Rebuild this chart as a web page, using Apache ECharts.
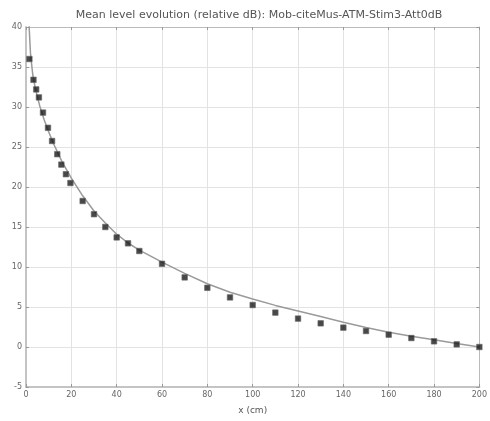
<!DOCTYPE html>
<html>
<head>
<meta charset="utf-8">
<script src="https://cdn.jsdelivr.net/npm/echarts@6/dist/echarts.min.js"></script>
<style>html,body{margin:0;padding:0;background:#fff}#c{width:490px;height:421px}</style>
</head>
<body>
<div id="c"></div>
<script>
// Measured points (x in cm, mean level in relative dB)
const pointX = [1.5, 3.3, 4.5, 5.7, 7.5, 9.7, 11.5, 13.8, 15.6, 17.6, 19.6, 25, 30, 35, 40, 45, 50, 60, 70, 80, 90, 100, 110, 120, 130, 140, 150, 160, 170, 180, 190, 200];
const pointY = [36.0, 33.4, 32.2, 31.2, 29.3, 27.4, 25.75, 24.1, 22.8, 21.6, 20.5, 18.25, 16.6, 15.0, 13.7, 12.96, 12.0, 10.4, 8.7, 7.4, 6.2, 5.25, 4.3, 3.55, 2.96, 2.42, 2.0, 1.54, 1.12, 0.71, 0.33, 0.0];
// Fitted curve
const curveX = [1.3, 2, 3, 4, 5, 6, 8, 10, 12, 14, 16, 18, 20, 25, 30, 35, 40, 45, 50, 60, 70, 80, 90, 100, 110, 120, 130, 140, 150, 160, 170, 180, 190, 200];
const curveY = [40.5, 36.6, 34.0, 32.5, 31.3, 30.2, 28.4, 26.9, 25.5, 24.3, 23.1, 22.1, 21.1, 18.9, 17.0, 15.5, 14.1, 13.0, 12.1, 10.6, 9.2, 7.9, 6.85, 6.0, 5.2, 4.5, 3.8, 3.1, 2.45, 1.85, 1.35, 0.9, 0.45, 0.0];
const xTicks = [0, 20, 40, 60, 80, 100, 120, 140, 160, 180, 200];
const yTicks = [-5, 0, 5, 10, 15, 20, 25, 30, 35, 40];

const titleText = 'Mean level evolution (relative dB): Mob-citeMus-ATM-Stim3-Att0dB';
const xLabel = 'x (cm)';

const pts = pointX.map((x, i) => [x, pointY[i]]);
const crv = curveX.map((x, i) => [x, curveY[i]]);

const font = 'DejaVu Sans';
const chart = echarts.init(document.getElementById('c'), null, {renderer: 'canvas'});
const gridLine = {show: true, lineStyle: {color: '#e3e3e3', width: 1, type: 'solid'}};
chart.setOption({
  animation: false,
  backgroundColor: '#fff',
  title: {text: titleText, left: 254, top: 5, textAlign: 'center',
    textStyle: {fontFamily: font, fontSize: 11, fontWeight: 'normal', color: '#555'}},
  grid: {left: 26, right: 8, top: 27, bottom: 34},
  xAxis: [{
    type: 'value', min: 0, max: 200, interval: 20,
    name: xLabel, nameLocation: 'middle', nameGap: 19,
    nameTextStyle: {fontFamily: font, fontSize: 9, color: '#555'},
    axisLine: {show: true, onZero: false, lineStyle: {color: '#c4c4c4', width: 2}},
    axisTick: {show: true, inside: true, length: 3, lineStyle: {color: '#999'}},
    axisLabel: {fontFamily: font, fontSize: 8, color: '#666', margin: 4},
    splitLine: gridLine
  }, {
    type: 'value', min: 0, max: 200, interval: 20, position: 'top',
    axisLine: {show: true, onZero: false, lineStyle: {color: '#bbb', width: 1}},
    axisTick: {show: true, inside: true, length: 3, lineStyle: {color: '#999'}},
    axisLabel: {show: false}, splitLine: {show: false}
  }],
  yAxis: [{
    type: 'value', min: -5, max: 40, interval: 5,
    axisLine: {show: true, onZero: false, lineStyle: {color: '#c4c4c4', width: 2}},
    axisTick: {show: true, inside: true, length: 3, lineStyle: {color: '#999'}},
    axisLabel: {fontFamily: font, fontSize: 8, color: '#666', margin: 4},
    splitLine: gridLine
  }, {
    type: 'value', min: -5, max: 40, interval: 5, position: 'right',
    axisLine: {show: true, onZero: false, lineStyle: {color: '#bbb', width: 1}},
    axisTick: {show: true, inside: true, length: 3, lineStyle: {color: '#999'}},
    axisLabel: {show: false}, splitLine: {show: false}
  }],
  series: [{
    type: 'line', data: crv, smooth: false, showSymbol: false, symbol: 'none',
    clip: true, lineStyle: {color: '#9a9a9a', width: 1.5}, z: 2
  }, {
    type: 'scatter', data: pts, symbol: 'rect', symbolSize: 5.5,
    itemStyle: {color: '#1a1a1a', borderColor: '#666', borderWidth: 0.8}, z: 3
  }]
});
</script>
</body>
</html>
